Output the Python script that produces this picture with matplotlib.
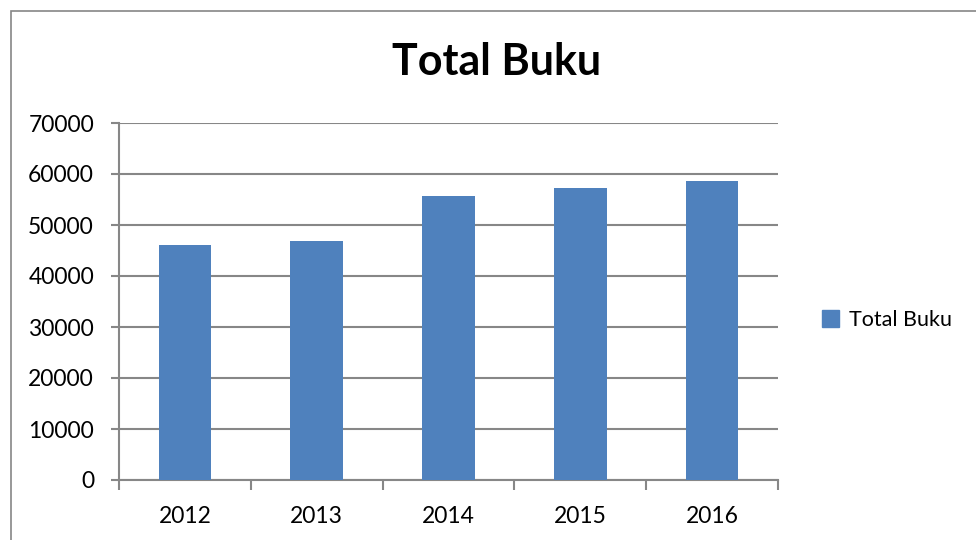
import matplotlib
matplotlib.use("Agg")
import matplotlib.pyplot as plt
from matplotlib.patches import Rectangle, Patch

years = ["2012", "2013", "2014", "2015", "2016"]
total_buku = [46100, 46850, 55650, 57250, 58650]
yticks = [0, 10000, 20000, 30000, 40000, 50000, 60000, 70000]

plt.rcParams['font.family'] = ['Lato', 'DejaVu Sans']
W, H = 976, 540
fig = plt.figure(figsize=(W/100, H/100), dpi=100)

# outer chart frame
fig.patches.append(Rectangle((11/W, -0.1), 1.2, 1 - 11/H + 0.1, transform=fig.transFigure,
                             fill=False, edgecolor='#868686', linewidth=1.2))

ax = fig.add_axes([119/W, 1 - 480/H, (778-119)/W, (480-123)/H])
x = list(range(len(years)))
ax.bar(x, total_buku, width=0.4, color='#4F81BD', zorder=3, label='Total Buku')
ax.set_xlim(-0.5, len(years) - 0.5)
ax.set_ylim(0, 70000)
ax.set_yticks(yticks)
ax.set_yticklabels([str(v) for v in yticks], fontsize=16.5)
ax.yaxis.grid(True, color='#878787', linewidth=1.5, zorder=0)
ax.tick_params(axis='y', direction='out', length=6, width=1.5, color='#878787', pad=12)

ax.set_xticks([i - 0.5 for i in range(len(years) + 1)])
ax.set_xticklabels([])
ax.tick_params(axis='x', which='major', direction='out', length=7, width=1.5, color='#878787')
ax.set_xticks(x, minor=True)
ax.set_xticklabels(years, minor=True, fontsize=16.5)
ax.tick_params(axis='x', which='minor', length=0, pad=19)

for s in ['top', 'right']:
    ax.spines[s].set_visible(False)
for s in ['left', 'bottom']:
    ax.spines[s].set_color('#878787')
    ax.spines[s].set_linewidth(1.5)

fig.text(497/W, 1 - 62/H, "Total Buku", ha='center', va='center', fontsize=31, fontweight='bold')

fig.legend(handles=[Patch(color='#4F81BD', label='Total Buku')], loc='center left',
           bbox_to_anchor=(822/W, 1 - 320/H), frameon=False, fontsize=15.5,
           handlelength=0.8, handleheight=0.8, handletextpad=0.45, borderaxespad=0,
           borderpad=0)

fig.savefig("out.png", dpi=100)
